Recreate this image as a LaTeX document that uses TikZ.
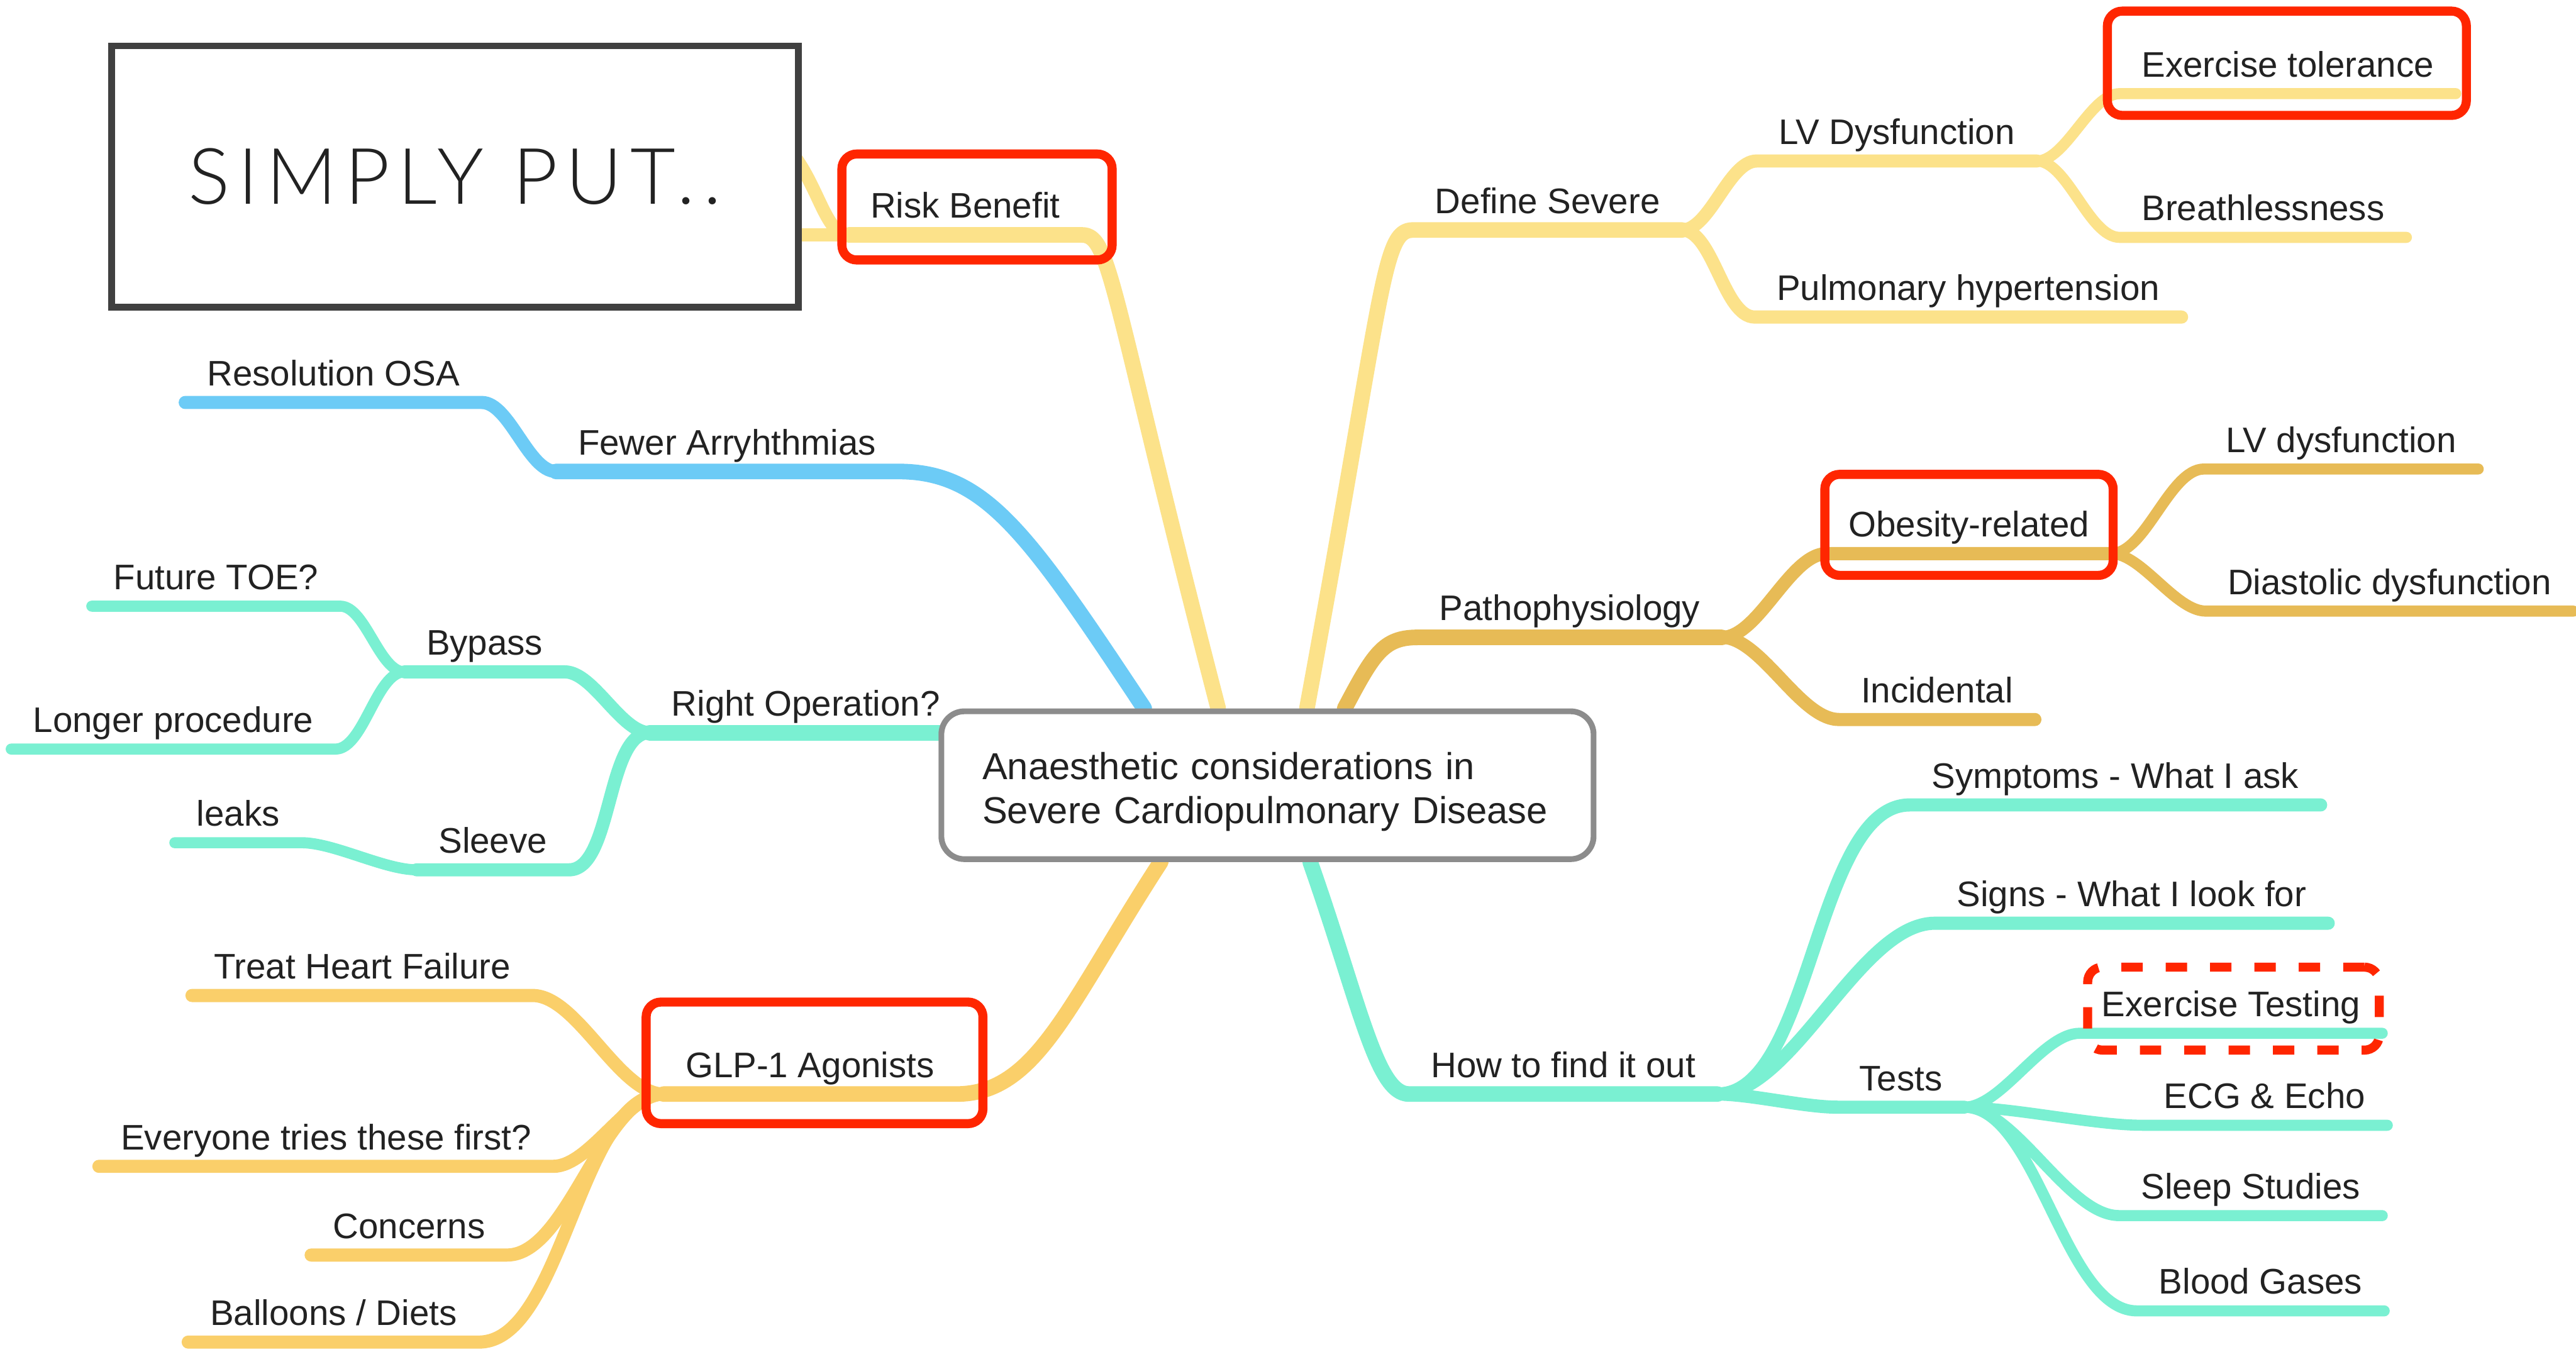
\documentclass[tikz,border=0pt]{standalone}
\usepackage{fontspec}
\setmainfont{Liberation Sans}
\IfFontExistsTF{Lato Light}
  {\newfontfamily\titlefont[LetterSpace=10]{Lato Light}}
  {\newfontfamily\titlefont[LetterSpace=10]{Lato}}
\usetikzlibrary{positioning,calc,backgrounds}

\definecolor{paleyel}{RGB}{252,226,138}
\definecolor{goldbr}{RGB}{231,187,86}
\definecolor{orangebr}{RGB}{250,207,106}
\definecolor{bluebr}{RGB}{108,203,246}
\definecolor{mintbr}{RGB}{122,240,210}
\definecolor{markred}{RGB}{255,38,0}
\definecolor{inkgray}{RGB}{34,34,34}
\definecolor{framegray}{RGB}{64,64,64}
\definecolor{rootgray}{RGB}{140,140,140}

\begin{document}
\begin{tikzpicture}[
    x=0.2mm, y=-0.2mm,
    font=\fontsize{12.3}{14}\selectfont,
    topic/.style={anchor=south, inner xsep=2.6mm, inner ysep=2.4pt,
        text height=9pt, text depth=3.2pt, text=inkgray},
    lvone/.style={draw=#1, line width=1.9mm, line cap=round, line join=round},
    lvtwo/.style={draw=#1, line width=1.6mm, line cap=round, line join=round},
    lvthree/.style={draw=#1, line width=1.35mm, line cap=round, line join=round},
    curveR/.style={out=0, in=180, looseness=0.7},
    curveL/.style={out=180, in=0, looseness=0.7},
    rootbox/.style={draw=rootgray, line width=0.7mm, rounded corners=2.8mm, fill=white,
        align=left, text width=69.4mm, inner xsep=5mm, minimum height=18mm,
        font=\fontsize{13}{15.4}\selectfont, text=inkgray},
    titlebox/.style={draw=framegray, line width=0.8mm, fill=white,
        minimum width=83.6mm, minimum height=31.8mm,
        font=\titlefont\fontsize{27}{30}\selectfont, text=inkgray},
    hilite/.style={draw=markred, line width=1.1mm, rounded corners=1.8mm, inner sep=0pt},
    hilitedash/.style={hilite, dash pattern=on 2.6mm off 2.8mm}
]
\useasboundingbox (0,0) rectangle (1568,823);

% Centre and title
\node[rootbox] (root) at (771.5,478) {\rule{0pt}{14pt}Anaesthetic considerations in\\Severe Cardiopulmonary Disease};
\node[titlebox] (title) at (277,107.5) {SIMPLY PUT..};

% First level
\node[topic] (rb) at (587.5,143) {Risk Benefit};
\node[topic] (ds) at (942,140) {Define Severe};
\node[topic] (patho) at (955.5,388) {Pathophysiology};
\node[topic] (fa) at (442.5,287) {Fewer Arryhthmias};
\node[topic] (ro) at (490.5,446) {Right Operation?};
\node[topic] (glp) at (493,666) {GLP-1 Agonists};
\node[topic] (how) at (951.5,666) {How to find it out};

% Define Severe
\node[topic] (lvd) at (1154.5,98) {LV Dysfunction};
\node[topic] (et) at (1392.5,57) {Exercise tolerance};
\node[topic] (br) at (1377.5,144.5) {Breathlessness};
\node[topic] (ph) at (1198,193) {Pulmonary hypertension};

% Pathophysiology
\node[topic] (ob) at (1198.5,337) {Obesity-related};
\node[topic] (lvd2) at (1425,285.5) {LV dysfunction};
\node[topic] (dd) at (1454.5,372) {Diastolic dysfunction};
\node[topic] (inc) at (1179,438) {Incidental};

% Fewer Arryhthmias
\node[topic] (osa) at (203,245) {Resolution OSA};

% Right Operation?
\node[topic] (byp) at (295,409) {Bypass};
\node[topic] (toe) at (131.5,369) {Future TOE?};
\node[topic] (lp) at (105.5,456) {Longer procedure};
\node[topic] (slv) at (300,529.5) {Sleeve};
\node[topic] (lk) at (145,513) {leaks};

% GLP-1 Agonists
\node[topic] (thf) at (220.5,606) {Treat Heart Failure};
\node[topic] (ev) at (198.5,710) {Everyone tries these first?};
\node[topic] (con) at (249,764) {Concerns};
\node[topic] (bal) at (203,817) {Balloons / Diets};

% How to find it out
\node[topic] (sym) at (1287.5,490) {Symptoms - What I ask};
\node[topic] (sig) at (1297.5,562) {Signs - What I look for};
\node[topic] (tst) at (1157,674) {Tests};
\node[topic] (ext) at (1358,629) {Exercise Testing};
\node[topic] (ecg) at (1378.5,685) {ECG \& Echo};
\node[topic] (slp) at (1370,740) {Sleep Studies};
\node[topic] (bg) at (1376,798) {Blood Gases};

% Highlights
\node[hilite, minimum width=32.9mm, minimum height=12.9mm] (rbMark) at (594.7,126) {};
\node[hilite, minimum width=43.7mm, minimum height=12.7mm] (etMark) at (1392,38.5) {};
\node[hilite, minimum width=35.1mm, minimum height=12.3mm] (obMark) at (1198.5,319.5) {};
\node[hilite, minimum width=41mm, minimum height=14.8mm] (glpMark) at (495.8,647) {};
\node[hilitedash, minimum width=35.5mm, minimum height=10.1mm] (extMark) at (1359.5,614) {};

\begin{pgfonlayer}{background}
\fill[white] (0,0) rectangle (1568,823);

% Branches from the centre
\draw[lvone=paleyel] ($(root.north)+(-30,0)$) .. controls +(-65.5,-253) and +(18,0) .. (rb.south east) -- (rb.south west);
\draw[lvone=paleyel] ($(root.north)+(24,0)$) .. controls +(47.5,-258) and +(-19,0) .. (ds.south west) -- (ds.south east);
\draw[lvone=goldbr] ($(root.north)+(47,0)$) .. controls +(17.5,-33) and +(-21,0) .. (patho.south west) -- (patho.south east);
\draw[lvone=bluebr] ($(root.north)+(-75,0)$) .. controls +(-71.5,-108) and +(53,0) .. (fa.south east) -- (fa.south west);
\draw[lvone=mintbr] (ro.south east) -- (ro.south west);
\draw[lvone=orangebr] ($(root.south)+(-65,0)$) .. controls +(-56.5,87) and +(49,0) .. (glp.south east) -- (glp.south west);
\draw[lvone=mintbr] ($(root.south)+(26,0)$) .. controls +(30.5,87) and +(-20,0) .. (how.south west) -- (how.south east);

% Risk Benefit, ends hidden under the title box
\coordinate (rbUp) at (440,73);
\coordinate (rbLeft) at (440,143);
\draw[lvtwo=paleyel] (rb.south west) .. controls (495,143) and (497,73) .. (rbUp);
\draw[lvtwo=paleyel] (rb.south west) -- (rbLeft);

% Define Severe
\draw[lvtwo=paleyel] (ds.south east) to[curveR] (lvd.south west) -- (lvd.south east);
\draw[lvtwo=paleyel] (ds.south east) to[curveR] (ph.south west) -- (ph.south east);
\draw[lvthree=paleyel] (lvd.south east) to[curveR] (et.south west) -- (et.south east);
\draw[lvthree=paleyel] (lvd.south east) to[curveR] (br.south west) -- (br.south east);

% Pathophysiology
\draw[lvtwo=goldbr] (patho.south east) to[curveR] (ob.south west) -- (ob.south east);
\draw[lvtwo=goldbr] (patho.south east) to[curveR] (inc.south west) -- (inc.south east);
\draw[lvthree=goldbr] (ob.south east) to[curveR] (lvd2.south west) -- (lvd2.south east);
\draw[lvthree=goldbr] (ob.south east) to[curveR] (dd.south west) -- (dd.south east);

% Fewer Arryhthmias
\draw[lvtwo=bluebr] (fa.south west) to[curveL] (osa.south east) -- (osa.south west);

% Right Operation?
\draw[lvtwo=mintbr] (ro.south west) to[curveL] (byp.south east) -- (byp.south west);
\draw[lvtwo=mintbr] (ro.south west) to[curveL] (slv.south east) -- (slv.south west);
\draw[lvthree=mintbr] (byp.south west) to[curveL] (toe.south east) -- (toe.south west);
\draw[lvthree=mintbr] (byp.south west) to[curveL] (lp.south east) -- (lp.south west);
\draw[lvthree=mintbr] (slv.south west) to[curveL] (lk.south east) -- (lk.south west);

% GLP-1 Agonists
\draw[lvtwo=orangebr] (glp.south west) to[curveL] (thf.south east) -- (thf.south west);
\draw[lvtwo=orangebr] (glp.south west) to[curveL] (ev.south east) -- (ev.south west);
\draw[lvtwo=orangebr] (glp.south west) to[curveL] (con.south east) -- (con.south west);
\draw[lvtwo=orangebr] (glp.south west) to[curveL] (bal.south east) -- (bal.south west);

% How to find it out
\draw[lvtwo=mintbr] (how.south east) to[curveR] (sym.south west) -- (sym.south east);
\draw[lvtwo=mintbr] (how.south east) to[curveR] (sig.south west) -- (sig.south east);
\draw[lvtwo=mintbr] (how.south east) to[curveR] (tst.south west) -- (tst.south east);
\draw[lvthree=mintbr] (tst.south east) to[curveR] (ext.south west) -- (ext.south east);
\draw[lvthree=mintbr] (tst.south east) to[curveR] (ecg.south west) -- (ecg.south east);
\draw[lvthree=mintbr] (tst.south east) to[curveR] (slp.south west) -- (slp.south east);
\draw[lvthree=mintbr] (tst.south east) to[curveR] (bg.south west) -- (bg.south east);
\end{pgfonlayer}

\end{tikzpicture}
\end{document}
